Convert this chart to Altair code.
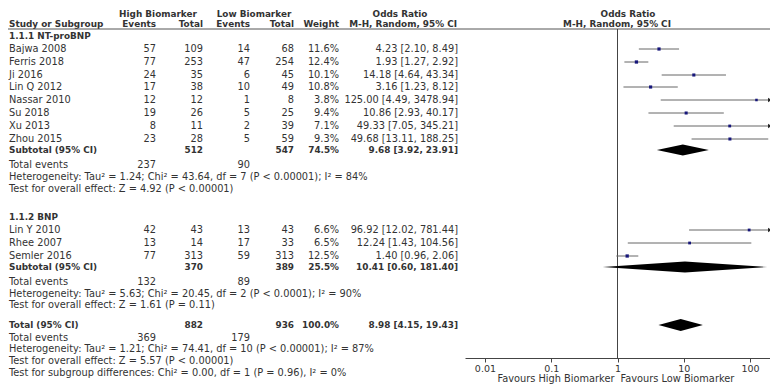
import altair as alt
import pandas as pd

# ---------------- data ----------------
grp1_name = "1.1.1 NT-proBNP"
studies1 = ["Bajwa 2008", "Ferris 2018", "Ji 2016", "Lin Q 2012", "Nassar 2010", "Su 2018", "Xu 2013", "Zhou 2015"]
hi_ev1 = [57, 77, 24, 17, 12, 19, 8, 23]
hi_tot1 = [109, 253, 35, 38, 12, 26, 11, 28]
lo_ev1 = [14, 47, 6, 10, 1, 5, 2, 5]
lo_tot1 = [68, 254, 45, 49, 8, 25, 39, 59]
weight1 = [11.6, 12.4, 10.1, 10.8, 3.8, 9.4, 7.1, 9.3]
or1 = [4.23, 1.93, 14.18, 3.16, 125.00, 10.86, 49.33, 49.68]
cil1 = [2.10, 1.27, 4.64, 1.23, 4.49, 2.93, 7.05, 13.11]
ciu1 = [8.49, 2.92, 43.34, 8.12, 3478.94, 40.17, 345.21, 188.25]
sub1 = dict(hi_tot=512, lo_tot=547, w=74.5, est=9.68, lo=3.92, hi=23.91, hi_ev=237, lo_ev=90)
het1 = "Heterogeneity: Tau² = 1.24; Chi² = 43.64, df = 7 (P < 0.00001); I² = 84%"
test1 = "Test for overall effect: Z = 4.92 (P < 0.00001)"

grp2_name = "1.1.2 BNP"
studies2 = ["Lin Y 2010", "Rhee 2007", "Semler 2016"]
hi_ev2 = [42, 13, 77]
hi_tot2 = [43, 14, 313]
lo_ev2 = [13, 17, 59]
lo_tot2 = [43, 33, 313]
weight2 = [6.6, 6.5, 12.5]
or2 = [96.92, 12.24, 1.40]
cil2 = [12.02, 1.43, 0.96]
ciu2 = [781.44, 104.56, 2.06]
sub2 = dict(hi_tot=370, lo_tot=389, w=25.5, est=10.41, lo=0.60, hi=181.40, hi_ev=132, lo_ev=89)
het2 = "Heterogeneity: Tau² = 5.63; Chi² = 20.45, df = 2 (P < 0.0001); I² = 90%"
test2 = "Test for overall effect: Z = 1.61 (P = 0.11)"

total = dict(hi_tot=882, lo_tot=936, w=100.0, est=8.98, lo=4.15, hi=19.43, hi_ev=369, lo_ev=179)
het3 = "Heterogeneity: Tau² = 1.21; Chi² = 74.41, df = 10 (P < 0.00001); I² = 87%"
test3 = "Test for overall effect: Z = 5.57 (P < 0.00001)"
test_sg = "Test for subgroup differences: Chi² = 0.00, df = 1 (P = 0.96), I² = 0%"

tick_values = [0.01, 0.1, 1, 10, 100]
fav_left = "Favours High Biomarker"
fav_right = "Favours Low Biomarker"

# ---------------- layout ----------------
W, H = 762, 350
FONT = "DejaVu Sans"
FS = 9.8
FSB = 8.9
TC = "#333333"
XMIN, XMAX = 0.005, 200
y_hdr1, y_hdr2, y_hline = 6, 16, 21
y_g1 = 28
y_s1 = [41, 54, 67, 79, 92, 105, 118, 131]
y_sub1, y_te1, y_het1, y_test1 = 142, 157, 169, 181
y_g2 = 209
y_s2 = [222, 235, 248]
y_sub2, y_te2, y_het2, y_test2 = 259, 274, 286, 297
y_tot, y_te3, y_het3, y_test3, y_sg = 317, 330, 341, 353, 365
y_fav = 371

col_x = dict(label=1, hi_ev=148, hi_tot=195, lo_ev=242, lo_tot=286, w=331, ci=450)

def fmt_ci(e, l, u):
    return f"{e:.2f} [{l:.2f}, {u:.2f}]"

rows = []
def add(y, label, bold=False, hi_ev="", hi_tot="", lo_ev="", lo_tot="", w="", ci=""):
    rows.append(dict(y=y, label=label, bold=bold, hi_ev=str(hi_ev), hi_tot=str(hi_tot),
                     lo_ev=str(lo_ev), lo_tot=str(lo_tot), w=w, ci=ci))

add(y_g1, grp1_name, bold=True)
for i, s in enumerate(studies1):
    add(y_s1[i], s, False, hi_ev1[i], hi_tot1[i], lo_ev1[i], lo_tot1[i], f"{weight1[i]:.1f}%", fmt_ci(or1[i], cil1[i], ciu1[i]))
add(y_sub1, "Subtotal (95% CI)", True, "", sub1["hi_tot"], "", sub1["lo_tot"], f"{sub1['w']:.1f}%", fmt_ci(sub1["est"], sub1["lo"], sub1["hi"]))
add(y_te1, "Total events", False, sub1["hi_ev"], "", sub1["lo_ev"])
add(y_het1, het1)
add(y_test1, test1)
add(y_g2, grp2_name, bold=True)
for i, s in enumerate(studies2):
    add(y_s2[i], s, False, hi_ev2[i], hi_tot2[i], lo_ev2[i], lo_tot2[i], f"{weight2[i]:.1f}%", fmt_ci(or2[i], cil2[i], ciu2[i]))
add(y_sub2, "Subtotal (95% CI)", True, "", sub2["hi_tot"], "", sub2["lo_tot"], f"{sub2['w']:.1f}%", fmt_ci(sub2["est"], sub2["lo"], sub2["hi"]))
add(y_te2, "Total events", False, sub2["hi_ev"], "", sub2["lo_ev"])
add(y_het2, het2)
add(y_test2, test2)
add(y_tot, "Total (95% CI)", True, "", total["hi_tot"], "", total["lo_tot"], f"{total['w']:.1f}%", fmt_ci(total["est"], total["lo"], total["hi"]))
add(y_te3, "Total events", False, total["hi_ev"], "", total["lo_ev"])
add(y_het3, het3)
add(y_test3, test3)
add(y_sg, test_sg)
table = pd.DataFrame(rows)

yscale = alt.Scale(domain=[0, H], range=[0, H])
xscale = alt.Scale(type="log", domain=[XMIN, XMAX], range=[457, 762])
xaxis = alt.Axis(values=tick_values, format="~g", title=None, grid=False, tickSize=4,
                 labelFont=FONT, labelFontSize=9.5, labelColor=TC, labelPadding=1,
                 domainColor="#444444", tickColor="#444444", labelFlush=False)

def Y(f="y"):
    return alt.Y(f"{f}:Q", scale=yscale, axis=None)

def X(f):
    return alt.X(f"{f}:Q", scale=xscale, axis=xaxis)

layers = []
base = alt.Chart(table)
for col, align in [("label", "left"), ("hi_ev", "right"), ("hi_tot", "right"), ("lo_ev", "right"),
                   ("lo_tot", "right"), ("w", "right"), ("ci", "right")]:
    for b in [False, True]:
        layers.append(
            base.transform_filter(alt.datum.bold == b).mark_text(
                align=align, baseline="middle", font=FONT, fontSize=FSB if b else FS, color=TC,
                fontWeight="bold" if b else "normal"
            ).encode(x=alt.value(col_x[col]), y=Y(), text=f"{col}:N")
        )

# header texts
def txt(t, x, y, align, bold=True):
    return alt.Chart(pd.DataFrame({"y": [y], "t": [t]})).mark_text(
        align=align, baseline="middle", font=FONT, fontSize=FSB if bold else FS, color=TC,
        fontWeight="bold" if bold else "normal").encode(x=alt.value(x), y=Y(), text="t:N")

layers += [
    txt("High Biomarker", 150, y_hdr1, "center"),
    txt("Low Biomarker", 246, y_hdr1, "center"),
    txt("Odds Ratio", 392, y_hdr1, "center"),
    txt("Odds Ratio", 620, y_hdr1, "center"),
    txt("Study or Subgroup", 1, y_hdr2, "left"),
    txt("Events", col_x["hi_ev"], y_hdr2, "right"),
    txt("Total", col_x["hi_tot"], y_hdr2, "right"),
    txt("Events", col_x["lo_ev"], y_hdr2, "right"),
    txt("Total", col_x["lo_tot"], y_hdr2, "right"),
    txt("Weight", col_x["w"], y_hdr2, "right"),
    txt("M-H, Random, 95% CI", 449, y_hdr2, "right"),
    txt("M-H, Random, 95% CI", 609, y_hdr2, "center"),
]

# header line
layers.append(alt.Chart(pd.DataFrame({"y": [y_hline]})).mark_rule(color="#555555", strokeWidth=1).encode(
    x=alt.value(0), x2=alt.value(W), y=Y()))

# null line at OR = 1
layers.append(alt.Chart(pd.DataFrame({"x": [1], "y": [y_hline], "y2": [H]})).mark_rule(
    color="#444444", strokeWidth=1).encode(x=X("x"), y=Y(), y2="y2:Q"))

# studies
st = pd.DataFrame({
    "y": y_s1 + y_s2,
    "est": or1 + or2,
    "lo": cil1 + cil2,
    "hi": [min(v, XMAX) for v in ciu1 + ciu2],
    "arrow": [v > XMAX for v in ciu1 + ciu2],
    "w": weight1 + weight2,
})
layers.append(alt.Chart(st).mark_rule(color="#666666", strokeWidth=1).encode(
    x=X("lo"), x2="hi:Q", y=Y()))
layers.append(alt.Chart(st).transform_filter(alt.datum.arrow).mark_point(
    shape="triangle-right", filled=True, color="#222222", opacity=1, size=20).encode(
    x=X("hi"), y=Y()))
layers.append(alt.Chart(st).mark_square(color="#16167a", opacity=1).encode(
    x=X("est"), y=Y(), size=alt.Size("w:Q", scale=alt.Scale(domain=[3, 13], range=[6, 11]), legend=None)))

# diamonds
dia = []
for g, (d, y, h) in enumerate([(sub1, y_sub1, 5.5), (sub2, y_sub2, 5.5), (total, y_tot, 6)]):
    dia += [dict(g=g, x=d["lo"], ya=y, yb=y),
            dict(g=g, x=d["est"], ya=y - h, yb=y + h),
            dict(g=g, x=d["hi"], ya=y, yb=y)]
dia = pd.DataFrame(dia)
layers.append(alt.Chart(dia).mark_area(color="#000000", opacity=1, orient="vertical").encode(
    x=X("x"), y=alt.Y("ya:Q", scale=yscale, axis=None, stack=None), y2="yb:Q", detail="g:N"))

# favours labels
fav = pd.DataFrame({"x": [1, 1], "y": [y_fav, y_fav], "t": [fav_left, fav_right], "side": ["l", "r"]})
layers.append(alt.Chart(fav).transform_filter(alt.datum.side == "l").mark_text(
    align="right", baseline="middle", font=FONT, fontSize=FS, color=TC, dx=-3).encode(
    x=X("x"), y=Y(), text="t:N"))
layers.append(alt.Chart(fav).transform_filter(alt.datum.side == "r").mark_text(
    align="left", baseline="middle", font=FONT, fontSize=FS, color=TC, dx=3).encode(
    x=X("x"), y=Y(), text="t:N"))

chart = alt.layer(*layers).properties(
    width=W, height=H,
    autosize=alt.AutoSizeParams(type="none"),
    padding={"left": 0, "top": 0, "right": 0, "bottom": 26},
    background="white",
).configure_view(stroke=None)

chart.save("out.html", embed_options={"renderer": "svg", "actions": False})
